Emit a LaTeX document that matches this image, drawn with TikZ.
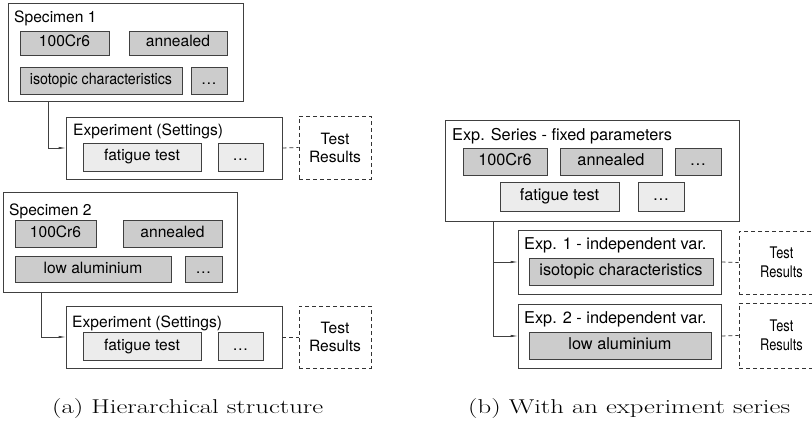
\documentclass[tikz,border=0pt]{standalone}
\usepackage{fontspec}
\usepackage{graphicx}
\newfontfamily\boxfont{TeX Gyre Heros}
\usetikzlibrary{arrows.meta}

\begin{document}
\begin{tikzpicture}[x=1pt, y=-1pt,
        frame/.style={draw=black!75, fill=white, line width=0.8pt, inner sep=0pt},
        attr/.style={draw=black!75, fill=gray!40, line width=0.8pt, inner sep=0pt, text height=11pt, text depth=3pt},
        setting/.style={draw=black!75, fill=gray!15, line width=0.8pt, inner sep=0pt, text height=11pt, text depth=3pt},
        result/.style={draw=black!80, line width=0.8pt, dash pattern=on 4pt off 3pt, inner sep=0pt, align=center},
        title/.style={anchor=base west, inner sep=0pt},
        link/.style={draw=black!75, line width=0.8pt, -{Triangle[length=7pt, width=2pt]}},
        dlink/.style={draw=black!80, line width=0.8pt, dash pattern=on 4pt off 3pt},
        caption/.style={anchor=base west, inner sep=0pt, font=\fontsize{20}{24}\selectfont}]
    \useasboundingbox (0,0) rectangle (812,425);
    \clip (0,0) rectangle (812,425);
    %
    % (a) hierarchical structure
    \begin{scope}[font=\boxfont\fontsize{15.6}{18}\selectfont]
        \node[frame, minimum width=235pt, minimum height=98pt] (spec1) at (125.5,52) {};
        \node[title] (spec1t) at (14,23) {Specimen 1};
        \node[attr, minimum width=89pt, minimum height=24pt] (s1mat) at (64.5,43) {100Cr6};
        \node[attr, minimum width=98pt, minimum height=24pt] (s1heat) at (178,43) {annealed};
        \node[attr, minimum width=162pt, minimum height=27pt] (s1iso) at (101,80.5) {\scalebox{0.91}[1]{isotopic characteristics}};
        \node[attr, minimum width=36pt, minimum height=27pt] (s1more) at (209,80.5) {…};
        %
        \node[frame, minimum width=216pt, minimum height=62pt] (exp1) at (174,148) {};
        \node[title] (exp1t) at (73,136) {Experiment (Settings)};
        \node[setting, minimum width=118pt, minimum height=28pt] (e1test) at (142,157) {fatigue test};
        \node[setting, minimum width=45pt, minimum height=28pt] (e1more) at (240.5,157) {…};
        \node[result, minimum width=72pt, minimum height=63pt] (res1) at (335,147.5) {Test\\Results};
        %
        \node[frame, minimum width=234pt, minimum height=100pt] (spec2) at (120,242) {};
        \node[title] (spec2t) at (9,215) {Specimen 2};
        \node[attr, minimum width=81pt, minimum height=27pt] (s2mat) at (55.5,233.5) {100Cr6};
        \node[attr, minimum width=99pt, minimum height=27pt] (s2heat) at (172.5,233.5) {annealed};
        \node[attr, minimum width=156pt, minimum height=26pt] (s2alu) at (93,269) {low aluminium};
        \node[attr, minimum width=37pt, minimum height=26pt] (s2more) at (203.5,269) {…};
        %
        \node[frame, minimum width=216pt, minimum height=62pt] (exp2) at (174,337) {};
        \node[title] (exp2t) at (72,327) {Experiment (Settings)};
        \node[setting, minimum width=118pt, minimum height=28pt] (e2test) at (142,346) {fatigue test};
        \node[setting, minimum width=45pt, minimum height=28pt] (e2more) at (240.5,346) {…};
        \node[result, minimum width=72pt, minimum height=62pt] (res2) at (335,337) {Test\\Results};
    \end{scope}
    \draw[link] ([xshift=41pt]spec1.south west) |- (exp1.west);
    \draw[link] ([xshift=39pt]spec2.south west) |- (exp2.west);
    \draw[dlink] (exp1.east) -- (res1.west);
    \draw[dlink] (exp2.east) -- (res2.west);
    %
    % (b) experiment series
    \begin{scope}[font=\boxfont\fontsize{16.3}{19}\selectfont]
        \node[frame, minimum width=294pt, minimum height=101pt] (series) at (592,170.5) {};
        \node[title] (seriest) at (452,141) {Exp. Series - fixed parameters};
        \node[attr, minimum width=84pt, minimum height=27pt] (fmat) at (505,161.5) {100Cr6};
        \node[attr, minimum width=102pt, minimum height=27pt] (fheat) at (611,161.5) {annealed};
        \node[attr, minimum width=46pt, minimum height=27pt] (fmore) at (698,161.5) {…};
        \node[setting, minimum width=119pt, minimum height=29pt] (ftest) at (559.5,196.5) {fatigue test};
        \node[setting, minimum width=46pt, minimum height=29pt] (ftmore) at (661,196.5) {…};
        %
        \node[frame, minimum width=203pt, minimum height=64pt] (ind1) at (619.5,262) {};
        \node[title] (ind1t) at (524,250) {Exp. 1 - independent var.};
        \node[attr, minimum width=184pt, minimum height=27pt] (ind1iso) at (621,271.5) {isotopic characteristics};
        \node[result, minimum width=85pt, minimum height=63pt, font=\boxfont\fontsize{16}{19}\selectfont] (res3) at (781.5,262.5) {\scalebox{0.8}[1]{Test}\\\scalebox{0.8}[1]{Results}};
        %
        \node[frame, minimum width=203pt, minimum height=64pt] (ind2) at (619.5,336) {};
        \node[title] (ind2t) at (524,323) {Exp. 2 - independent var.};
        \node[attr, minimum width=182pt, minimum height=27pt] (ind2alu) at (620,345.5) {low aluminium};
        \node[result, minimum width=85pt, minimum height=65pt, font=\boxfont\fontsize{16}{19}\selectfont] (res4) at (781.5,335.5) {\scalebox{0.8}[1]{Test}\\\scalebox{0.8}[1]{Results}};
    \end{scope}
    \draw[link] ([xshift=49pt]series.south west) |- (ind1.west);
    \draw[link] ([xshift=49pt]series.south west) |- (ind2.west);
    \draw[dlink] (ind1.east) -- (res3.west);
    \draw[dlink] (ind2.east) -- (res4.west);
    %
    \node[caption] (capa) at (52,413) {\scalebox{1.335}[1]{(a) Hierarchical structure}};
    \node[caption] (capb) at (468,413) {\scalebox{1.335}[1]{(b) With an experiment series}};
\end{tikzpicture}
\end{document}
